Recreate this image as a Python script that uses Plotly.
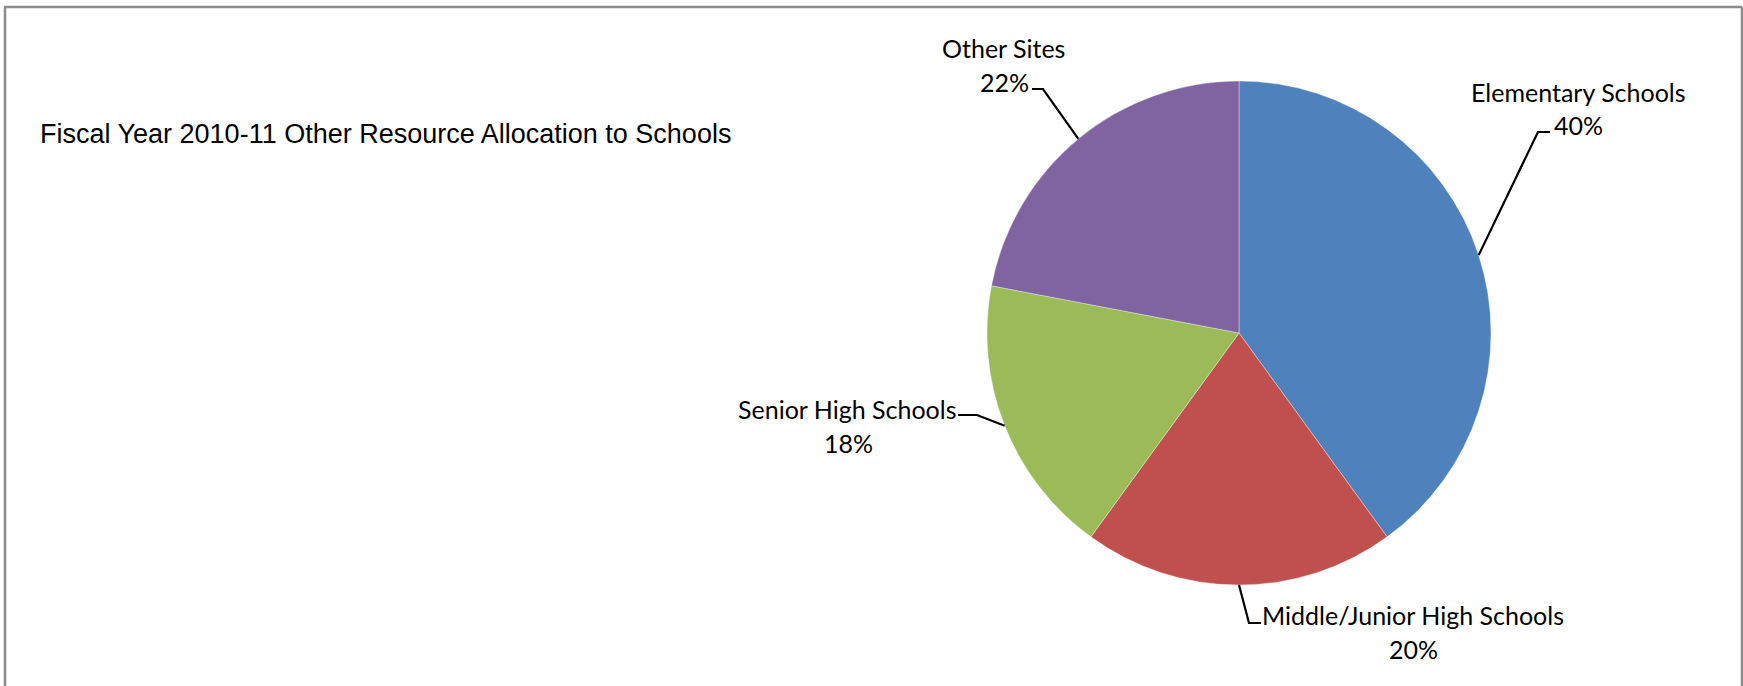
import math
import plotly.graph_objects as go

# Allocation shares by site type (percent)
categories = ["Elementary Schools", "Middle/Junior High Schools", "Senior High Schools", "Other Sites"]
shares = [40, 20, 18, 22]
colors = ["#4F81BD", "#C0504D", "#9BBB59", "#8064A2"]

title_text = "Fiscal Year 2010-11 Other Resource Allocation to Schools"

W, H = 1743, 686
CX, CY, R = 1239, 333, 252  # pie centre and radius in pixels

# label placement (pixel centres of name line and percent line) and leader elbow/end
label_layout = {
    "Elementary Schools": dict(name=(1578, 92), pct=(1578, 125), elbow=(1538, 132), end=(1550, 132)),
    "Middle/Junior High Schools": dict(name=(1413, 615), pct=(1413, 649), elbow=(1249, 623), end=(1261, 623)),
    "Senior High Schools": dict(name=(847, 409), pct=(848, 443), elbow=(977, 415), end=(958, 415)),
    "Other Sites": dict(name=(1003, 48), pct=(1004, 82), elbow=(1043, 89), end=(1032, 89)),
}


def px(x):
    return x / W


def py(y):
    return 1 - y / H


fig = go.Figure(
    go.Pie(
        labels=categories,
        values=shares,
        sort=False,
        direction="clockwise",
        rotation=0,
        marker=dict(colors=colors, line=dict(color="rgba(255,255,255,0.5)", width=0.7)),
        textinfo="none",
        hoverinfo="skip",
        domain=dict(x=[px(CX - R), px(CX + R)], y=[py(CY + R), py(CY - R)]),
    )
)

annotations = [
    dict(
        text=title_text, x=px(38), y=py(134), xref="paper", yref="paper",
        xanchor="left", yanchor="middle", showarrow=False,
        font=dict(family="Liberation Sans, Arial", size=27, color="#000000"),
    )
]
shapes = []

label_font = dict(family="Lato, Noto Sans", size=25, color="#000000")
total = sum(shares)
cum = 0
for cat, val in zip(categories, shares):
    mid = (cum + val / 2) / total * 2 * math.pi
    cum += val
    sx = CX + R * math.sin(mid)
    sy = CY - R * math.cos(mid)
    lay = label_layout[cat]
    pct = round(val / total * 100)
    for txt, (lx, ly) in ((cat, lay["name"]), (f"{pct}%", lay["pct"])):
        annotations.append(dict(
            text=txt, x=px(lx), y=py(ly), xref="paper", yref="paper",
            xanchor="center", yanchor="middle", showarrow=False, font=label_font,
        ))
    ex, ey = lay["elbow"]
    tx, ty = lay["end"]
    shapes.append(dict(
        type="path", xref="paper", yref="paper",
        path=f"M {px(sx)} {py(sy)} L {px(ex)} {py(ey)} L {px(tx)} {py(ty)}",
        line=dict(color="#000000", width=2.2),
    ))

# chart frame (left, top, right edges)
frame = dict(color="#8C8C8C", width=2.5)
shapes += [
    dict(type="line", xref="paper", yref="paper", x0=px(5), x1=px(5), y0=py(7), y1=py(H + 5), line=frame),
    dict(type="line", xref="paper", yref="paper", x0=px(4), x1=px(1742), y0=py(7), y1=py(7), line=frame),
    dict(type="line", xref="paper", yref="paper", x0=px(1742), x1=px(1742), y0=py(7), y1=py(H + 5), line=frame),
]

fig.update_layout(
    width=W, height=H,
    margin=dict(l=0, r=0, t=0, b=0),
    paper_bgcolor="#FFFFFF", plot_bgcolor="#FFFFFF",
    showlegend=False,
    annotations=annotations,
    shapes=shapes,
)

fig.write_html("out.html")
